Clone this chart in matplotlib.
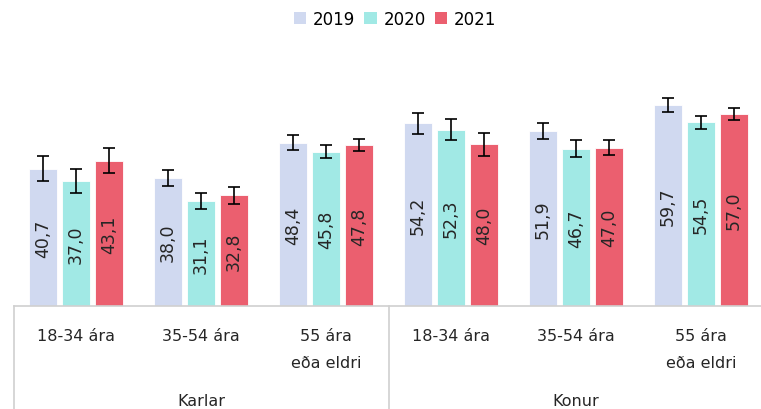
import matplotlib.pyplot as plt
import matplotlib.transforms as mtransforms
from matplotlib.patches import Patch
import numpy as np

# --- Данные ---
groups = ["Karlar", "Konur"]
age_labels = ["18-34 ára", "35-54 ára", "55 ára\neða eldri",
              "18-34 ára", "35-54 ára", "55 ára\neða eldri"]
years = ["2019", "2020", "2021"]

vals_2019 = [40.7, 38.0, 48.4, 54.2, 51.9, 59.7]
vals_2020 = [37.0, 31.1, 45.8, 52.3, 46.7, 54.5]
vals_2021 = [43.1, 32.8, 47.8, 48.0, 47.0, 57.0]

err_2019 = [3.7, 2.4, 2.2, 3.1, 2.4, 2.1]
err_2020 = [3.6, 2.4, 1.9, 3.1, 2.5, 1.9]
err_2021 = [3.7, 2.4, 1.9, 3.4, 2.3, 1.9]

colors = ['#D0D9F0', '#A1E9E5', '#EB5F6F']

series = [vals_2019, vals_2020, vals_2021]
errors = [err_2019, err_2020, err_2021]

# --- Фигура ---
W, H = 761, 410
fig = plt.figure(figsize=(W / 100, H / 100), dpi=100)
ax = fig.add_axes([13.5 / W, (H - 307) / H, 750 / W, 269.6 / H])

x = np.arange(len(age_labels))
bw = 0.224
step = 0.264

for k, (vals, errs, c) in enumerate(zip(series, errors, colors)):
    xs = x + (k - 1) * step
    ax.bar(xs, vals, width=bw, color=c, edgecolor='white', linewidth=0.6, zorder=2)
    ax.errorbar(xs, vals, yerr=errs, fmt='none', ecolor='black',
                elinewidth=1.2, capsize=4, capthick=1.2, zorder=3)
    for xi, v in zip(xs, vals):
        ax.text(xi, v / 2, f"{v:.1f}".replace('.', ','), rotation=90,
                ha='center', va='center', fontsize=12.5, color='#262626', zorder=4)

ax.set_xlim(-0.5, 5.5)
ax.set_ylim(0, 80)

for s in ['top', 'right', 'left']:
    ax.spines[s].set_visible(False)
ax.spines['bottom'].set_color('#D0D0D0')
ax.spines['bottom'].set_linewidth(1.2)
ax.set_yticks([])
ax.set_xticks(x)
ax.set_xticklabels(age_labels, fontsize=11.5, color='#262626', linespacing=2.0)
ax.tick_params(axis='x', length=0, pad=15.5)

# вертикальные разделители групп
trans = mtransforms.blended_transform_factory(ax.transData, ax.transAxes)
for xv in [-0.5, 2.5, 5.5]:
    ax.plot([xv, xv], [0, -0.5], transform=trans, color='#D0D0D0',
            linewidth=1.2, clip_on=False)

# подписи групп
for i, g in enumerate(groups):
    ax.text(1 + 3 * i, -0.35, g, transform=trans, ha='center', va='center',
            fontsize=11.5, color='#262626')

# легенда
handles = [Patch(facecolor=c, edgecolor='none') for c in colors]
fig.legend(handles, years, loc='center', bbox_to_anchor=(395 / W, 1 - 20 / H),
           ncol=3, frameon=False, fontsize=12, handlelength=0.75,
           handleheight=0.75, handletextpad=0.4, columnspacing=0.55)

fig.savefig('out.png', dpi=100)
